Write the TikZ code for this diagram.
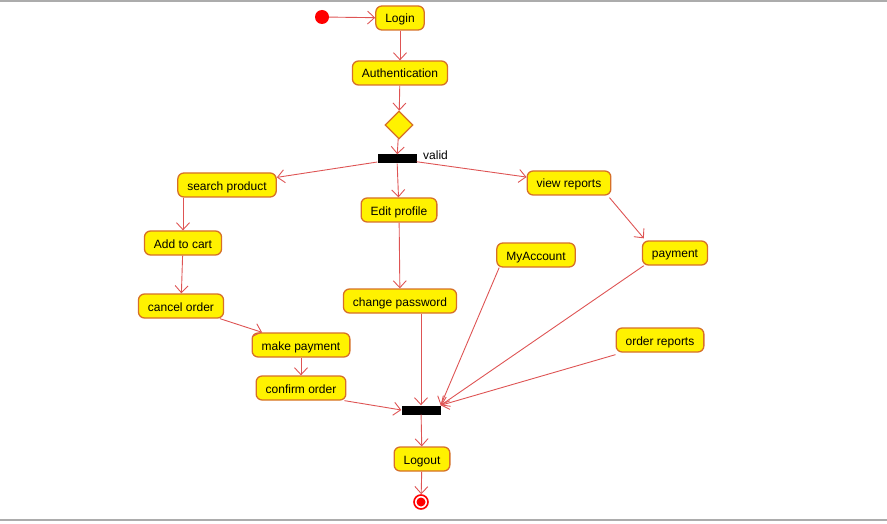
\documentclass[tikz,border=0pt]{standalone}
\usepackage{fontspec}
\setmainfont{Liberation Sans}
\usetikzlibrary{shapes.geometric, arrows.meta, positioning, calc}
\definecolor{flowred}{RGB}{222,84,84}
\definecolor{boxedge}{RGB}{214,112,40}
\definecolor{boxfill}{RGB}{255,242,0}
\tikzstyle{activity} = [rectangle, rounded corners=6pt, minimum height=24pt, inner xsep=9.5pt, inner ysep=2pt, text height=10.5pt, text depth=0.5pt, draw=boxedge, fill=boxfill, line width=1.3pt, font=\fontsize{12}{14}\selectfont]
\tikzstyle{decision} = [diamond, minimum width=28pt, minimum height=28pt, inner sep=0pt, draw=boxedge, fill=boxfill, line width=1.3pt]
\tikzstyle{syncbar} = [rectangle, minimum width=39pt, minimum height=9pt, inner sep=0pt, fill=black]
\tikzstyle{arrow} = [draw=flowred, line width=0.9pt, -{Straight Barb[length=7pt,width=13pt]}]

\begin{document}
\begin{tikzpicture}[x=1pt, y=-1pt]
      \useasboundingbox (0,0) rectangle (887,524);
      % khung
      \draw[gray!65, line width=2pt] (0,1) -- (887,1);
      \draw[gray!65, line width=2pt] (0,520) -- (887,520);

      % Start
      \node[circle, fill=red, minimum size=14pt, inner sep=0pt] (start) at (322,17) {};
      \node[activity] (login) at (400,18) {Login};
      \node[activity] (auth) at (400,73) {Authentication};
      \node[decision] (check) at (399,125) {};
      \node[syncbar] (fork) at (397,159) {};
      \node[anchor=west, inner sep=0pt, font=\fontsize{12}{14}\selectfont] (valid) at (423,155) {valid};

      % Left branch
      \node[activity] (search) at (227,185) {search product};
      \node[activity] (cart) at (183,243) {Add to cart};
      \node[activity] (cancel) at (181,306) {cancel order};
      \node[activity] (mkpay) at (301,345) {make payment};
      \node[activity] (confirm) at (301,388) {confirm order};

      % Middle branch
      \node[activity] (edit) at (399,210) {Edit profile};
      \node[activity] (chpw) at (400,301) {change password};

      % Right branch
      \node[activity] (vrep) at (569,183) {view reports};
      \node[activity] (pay) at (675,253) {payment};
      \node[activity] (myacc) at (536,255) {MyAccount};
      \node[activity] (ordrep) at (660,340) {order reports};

      % End
      \node[syncbar] (join) at (421,410) {};
      \node[activity] (logout) at (422,459) {Logout};
      \node[circle, draw=red, line width=1.6pt, fill=white, minimum size=14pt, inner sep=0pt,
            path picture={\fill[red] (path picture bounding box.center) circle (4.5pt);}] (stop) at (421,502) {};

      % Arrows
      \draw[arrow] (start) -- (login);
      \draw[arrow] (login) -- (auth);
      \draw[arrow] (auth) -- (check);
      \draw[arrow] (check) -- (fork);

      \draw[arrow] (fork) -- (search);
      \draw[arrow] (fork) -- (edit);
      \draw[arrow] (fork) -- (vrep);

      \draw[arrow] (search.south -| cart) -- (cart);
      \draw[arrow] (cart) -- (cancel);
      \draw[arrow] (cancel) -- (mkpay);
      \draw[arrow] (mkpay) -- (confirm);
      \draw[arrow] ([xshift=-2pt]confirm.south east) -- (join.west);

      \draw[arrow] (edit) -- (chpw);
      \draw[arrow] (chpw.south -| join) -- (join.north);

      \draw[arrow] ([xshift=-2pt,yshift=-2pt]vrep.south east) -- ([xshift=2pt,yshift=2pt]pay.north west);
      \draw[arrow] ([xshift=3pt]myacc.south west) -- (join.north east);
      \draw[arrow] ([xshift=2pt]pay.south west) -- (join.north east);
      \draw[arrow] ([yshift=-2pt]ordrep.south west) -- (join.north east);

      \draw[arrow] (join) -- (logout);
      \draw[arrow] (logout) -- (stop);
\end{tikzpicture}
\end{document}
